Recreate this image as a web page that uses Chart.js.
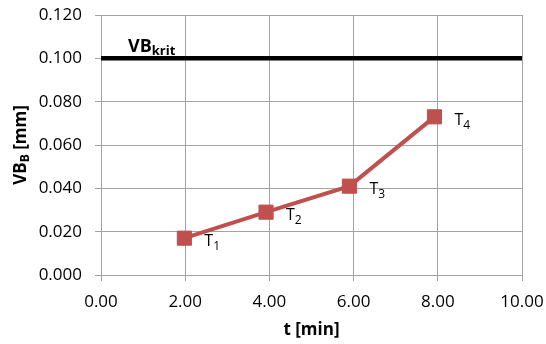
<!DOCTYPE html>
<html>
<head>
<meta charset="utf-8">
<script src="https://cdn.jsdelivr.net/npm/chart.js@4/dist/chart.umd.min.js"></script>
<style>
  html, body { margin: 0; padding: 0; background: #fff; }
  #wrap { width: 546px; height: 344px; }
</style>
</head>
<body>
<div id="wrap"><canvas id="wearChart" width="546" height="344"></canvas></div>
<script>
// Measured wear VB_B over cutting time t
const timeMin = [1.98, 3.92, 5.9, 7.92];
const wearMm = [0.017, 0.029, 0.041, 0.073];
const pointNames = ['1', '2', '3', '4'];   // subscripts of T
const critWear = 0.100;                      // VB_krit limit
const critRange = [0, 10];

const xTicks = [0, 2, 4, 6, 8, 10];
const yTicks = [0, 0.02, 0.04, 0.06, 0.08, 0.10, 0.12];

const FONT = '"Open Sans", sans-serif';
const red = '#C0504D';
const gridGrey = '#a3a3a3';

// text with a subscript part, starting at x (left) on baseline y
function drawSub(ctx, main, sub, rest, x, y, size, subSize, drop, bold) {
  const w = bold ? 'bold ' : '';
  ctx.font = w + size + 'px ' + FONT;
  ctx.fillText(main, x, y);
  x += ctx.measureText(main).width;
  ctx.font = w + subSize + 'px ' + FONT;
  ctx.fillText(sub, x, y + drop);
  x += ctx.measureText(sub).width;
  if (rest) {
    ctx.font = w + size + 'px ' + FONT;
    ctx.fillText(rest, x, y);
  }
}

function subWidth(ctx, main, sub, rest, size, subSize, bold) {
  const w = bold ? 'bold ' : '';
  ctx.font = w + size + 'px ' + FONT;
  let total = ctx.measureText(main).width + (rest ? ctx.measureText(rest).width : 0);
  ctx.font = w + subSize + 'px ' + FONT;
  return total + ctx.measureText(sub).width;
}

const labelPlugin = {
  id: 'labels',
  afterDatasetsDraw(chart) {
    const ctx = chart.ctx;
    const xs = chart.scales.x, ys = chart.scales.y;
    ctx.save();
    ctx.fillStyle = '#000';
    ctx.textBaseline = 'alphabetic';
    ctx.textAlign = 'left';

    // point labels T1..T4
    timeMin.forEach((t, i) => {
      const px = xs.getPixelForValue(t);
      const py = ys.getPixelForValue(wearMm[i]);
      drawSub(ctx, 'T', pointNames[i], '', px + 20, py + 8, 16, 12, 4, false);
    });

    // VB_krit label above the limit line
    drawSub(ctx, 'VB', 'krit', '', xs.getPixelForValue(0) + 27,
      ys.getPixelForValue(critWear) - 6.5, 18, 13, 3, true);

    // x axis title
    ctx.font = 'bold 17px ' + FONT;
    ctx.textAlign = 'center';
    ctx.fillText('t [min]', (chart.chartArea.left + chart.chartArea.right) / 2, 335);

    // y axis title, rotated
    const cy = (chart.chartArea.top + chart.chartArea.bottom) / 2;
    ctx.translate(26, cy);
    ctx.rotate(-Math.PI / 2);
    ctx.textAlign = 'left';
    const tw = subWidth(ctx, 'VB', 'B', ' [mm]', 17, 12, true);
    drawSub(ctx, 'VB', 'B', ' [mm]', -tw / 2, 0, 17, 12, 3, true);
    ctx.restore();
  }
};

const ctx = document.getElementById('wearChart').getContext('2d');
new Chart(ctx, {
  type: 'scatter',
  data: {
    datasets: [
      {
        label: 'VB krit',
        data: critRange.map(x => ({ x: x, y: critWear })),
        showLine: true,
        borderColor: '#000',
        borderWidth: 4.5,
        pointRadius: 0,
        order: 2
      },
      {
        label: 'VB',
        data: timeMin.map((t, i) => ({ x: t, y: wearMm[i] })),
        showLine: true,
        borderColor: red,
        backgroundColor: red,
        borderWidth: 4,
        pointStyle: 'rect',
        pointRadius: 10,
        pointBorderWidth: 1,
        pointBorderColor: red,
        pointBackgroundColor: red,
        order: 1
      }
    ]
  },
  options: {
    responsive: false,
    animation: false,
    layout: { padding: { top: 15, right: 24, left: 0, bottom: 0 } },
    plugins: {
      legend: { display: false },
      tooltip: { enabled: false }
    },
    scales: {
      x: {
        type: 'linear',
        min: xTicks[0],
        max: xTicks[xTicks.length - 1],
        afterBuildTicks: s => { s.ticks = xTicks.map(v => ({ value: v })); },
        afterFit: s => { s.height = 69; s.paddingLeft = 0; s.paddingRight = 0; },
        grid: { color: gridGrey, lineWidth: 1, tickLength: 6 },
        border: { color: gridGrey, width: 1 },
        ticks: {
          padding: 11,
          color: '#000',
          font: { family: FONT, size: 17 },
          callback: v => v.toFixed(2)
        }
      },
      y: {
        type: 'linear',
        min: yTicks[0],
        max: yTicks[yTicks.length - 1],
        afterBuildTicks: s => { s.ticks = yTicks.map(v => ({ value: v })); },
        afterFit: s => { s.width = 101; s.paddingTop = 0; s.paddingBottom = 0; },
        grid: { color: gridGrey, lineWidth: 1, tickLength: 6 },
        border: { color: gridGrey, width: 1 },
        ticks: {
          padding: 13,
          color: '#000',
          font: { family: FONT, size: 17 },
          callback: v => v.toFixed(3)
        }
      }
    }
  },
  plugins: [labelPlugin]
});
</script>
</body>
</html>
